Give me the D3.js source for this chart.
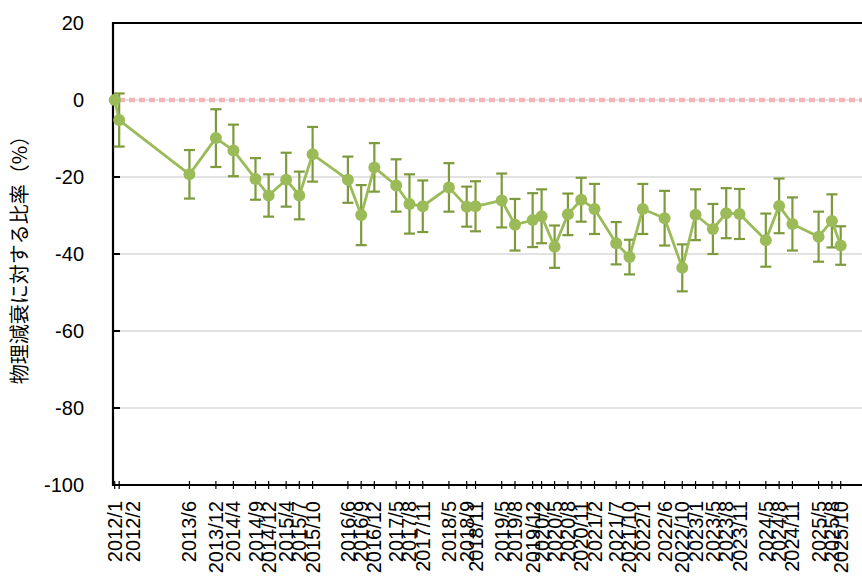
<!DOCTYPE html>
<html><head><meta charset="utf-8">
<script src="https://cdn.jsdelivr.net/npm/d3@7"></script>
<style>html,body{margin:0;padding:0;background:#fff;}svg{display:block;}</style>
</head><body>
<svg id="chart" width="862" height="582"></svg>
<script>
const dateLabels = ["2012/1","2012/2","2013/6","2013/12","2014/4","2014/9","2014/12","2015/4","2015/7","2015/10","2016/6","2016/9","2016/12","2017/5","2017/8","2017/11","2018/5","2018/9","2018/11","2019/5","2019/8","2019/12","2020/2","2020/5","2020/8","2020/11","2021/2","2021/7","2021/10","2022/1","2022/6","2022/10","2023/1","2023/5","2023/8","2023/11","2024/5","2024/8","2024/11","2025/5","2025/8","2025/10"];
const ratioValues = [0,-5.2,-19.3,-9.9,-13.1,-20.5,-24.8,-20.7,-24.8,-14.1,-20.7,-29.9,-17.5,-22.2,-27.0,-27.6,-22.7,-27.7,-27.6,-26.1,-32.4,-31.2,-30.2,-38.1,-29.7,-25.9,-28.3,-37.2,-40.8,-28.3,-30.7,-43.6,-29.8,-33.5,-29.4,-29.6,-36.4,-27.5,-32.2,-35.5,-31.4,-37.8];
const errorValues = [0,6.9,6.3,7.5,6.7,5.4,5.5,7.0,6.2,7.1,6.0,7.8,6.3,6.8,7.7,6.7,6.3,5.2,6.5,7.0,6.7,7.0,7.0,5.5,5.4,5.7,6.5,5.5,4.5,6.5,7.1,6.1,6.6,6.5,6.5,6.5,6.9,7.1,6.9,6.5,6.9,5.0];
const yTicks = [20,0,-20,-40,-60,-80,-100];
const yTitle = "物理減衰に対する比率（%）";

const parse = d3.timeParse("%Y/%m");
const data = dateLabels.map((l,i)=>({label:l, date:parse(l), v:ratioValues[i], e:errorValues[i]}));

const svg = d3.select("#chart");
const axisX = 113, plotRight = 862, topY = 23, bottomY = 485;

const x = d3.scaleTime().domain([data[0].date, data[data.length-1].date]).range([114.7, 840.7]);
const y = d3.scaleLinear().domain([-100, 20]).range([bottomY, topY]);

const font = "'Liberation Sans', Arial, sans-serif";
const green = "#9bbb59", darkGreen = "#7d9a3c";

// gridlines
svg.append("g").selectAll("line").data(yTicks.filter(t=>t>-100 && t<20)).join("line")
  .attr("x1", axisX).attr("x2", plotRight)
  .attr("y1", d=>y(d)).attr("y2", d=>y(d))
  .attr("stroke", "#d9d9d9").attr("stroke-width", 1.5);

// top line
svg.append("line").attr("x1", axisX).attr("x2", plotRight).attr("y1", y(20)).attr("y2", y(20))
  .attr("stroke", "#000").attr("stroke-width", 2);

// reference dashed line at 0
svg.append("line").attr("x1", axisX).attr("x2", plotRight).attr("y1", y(0)).attr("y2", y(0))
  .attr("stroke", "#f5b5b8").attr("stroke-width", 4.5).attr("stroke-dasharray", "6,4").attr("stroke-dashoffset", -6);

// y axis
const yAxis = d3.axisLeft(y).tickValues(yTicks).tickSize(0).tickPadding(29).tickFormat(d=>String(d));
const gy = svg.append("g").attr("transform", `translate(${axisX},0)`).call(yAxis);
gy.select(".domain").remove();
gy.selectAll("text").attr("font-family", font).attr("font-size", 20).attr("fill", "#000");
svg.append("g").selectAll("line").data(yTicks).join("line")
  .attr("x1", axisX).attr("x2", axisX + 7).attr("y1", d=>y(d)).attr("y2", d=>y(d))
  .attr("stroke", "#000").attr("stroke-width", 2);
svg.append("line").attr("x1", axisX).attr("x2", axisX).attr("y1", topY - 1).attr("y2", bottomY + 1)
  .attr("stroke", "#000").attr("stroke-width", 2.2);

// x axis
svg.append("line").attr("x1", axisX - 1).attr("x2", plotRight).attr("y1", bottomY).attr("y2", bottomY)
  .attr("stroke", "#000").attr("stroke-width", 2);
svg.append("g").selectAll("line").data(data).join("line")
  .attr("x1", d=>x(d.date)).attr("x2", d=>x(d.date)).attr("y1", bottomY - 4).attr("y2", bottomY + 4)
  .attr("stroke", "#000").attr("stroke-width", 1.2);
svg.append("g").selectAll("text").data(data).join("text")
  .attr("transform", (d,i)=>`translate(${x(d.date) + (i===1 ? 14 : 0)},${bottomY + 16}) rotate(-90)`)
  .attr("text-anchor", "end").attr("dy", "0.35em")
  .attr("font-family", font).attr("font-size", 20).attr("fill", "#000")
  .text(d=>d.label);

// y title
svg.append("text").attr("transform", "translate(20,255) rotate(-90)")
  .attr("text-anchor", "middle").attr("dy", "0.35em")
  .attr("font-family", "'Noto Sans CJK JP', sans-serif").attr("font-size", 20).attr("fill", "#000")
  .text(yTitle);

// error bars
const eb = svg.append("g").selectAll("g").data(data.filter(d=>d.e>0)).join("g")
  .attr("stroke", darkGreen).attr("stroke-width", 2.2);
eb.append("line").attr("x1", d=>x(d.date)).attr("x2", d=>x(d.date))
  .attr("y1", d=>y(d.v + d.e)).attr("y2", d=>y(d.v - d.e));
eb.append("line").attr("x1", d=>x(d.date)-5.5).attr("x2", d=>x(d.date)+5.5)
  .attr("y1", d=>y(d.v + d.e)).attr("y2", d=>y(d.v + d.e));
eb.append("line").attr("x1", d=>x(d.date)-5.5).attr("x2", d=>x(d.date)+5.5)
  .attr("y1", d=>y(d.v - d.e)).attr("y2", d=>y(d.v - d.e));

// line
svg.append("path").datum(data)
  .attr("fill", "none").attr("stroke", green).attr("stroke-width", 2.8).attr("stroke-linejoin", "round")
  .attr("d", d3.line().x(d=>x(d.date)).y(d=>y(d.v)));

// markers
svg.append("g").selectAll("circle").data(data).join("circle")
  .attr("cx", d=>x(d.date)).attr("cy", d=>y(d.v)).attr("r", 6)
  .attr("fill", green);
</script>
</body></html>
